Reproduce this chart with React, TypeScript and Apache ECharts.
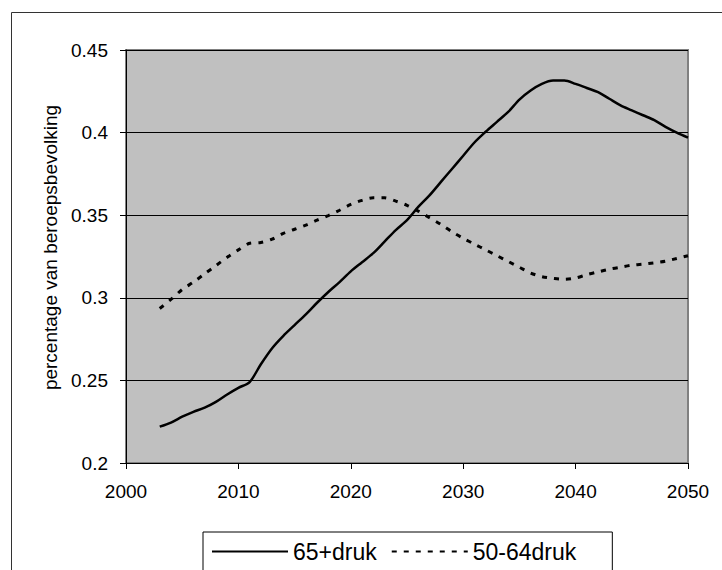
import React, { useEffect, useRef } from "react";
import * as echarts from "echarts";

const years = [
  2003, 2004, 2005, 2006, 2007, 2008, 2009, 2010, 2011, 2012, 2013, 2014, 2015, 2016,
  2017, 2018, 2019, 2020, 2021, 2022, 2023, 2024, 2025, 2026, 2027, 2028, 2029, 2030,
  2031, 2032, 2033, 2034, 2035, 2036, 2037, 2038, 2039, 2040, 2041, 2042, 2043, 2044,
  2045, 2046, 2047, 2048, 2049, 2050,
];

const druk65 = [
  0.222, 0.2245, 0.228, 0.231, 0.2335, 0.237, 0.2415, 0.2455, 0.249, 0.2598, 0.2695, 0.277,
  0.2835, 0.29, 0.297, 0.3035, 0.3095, 0.316, 0.3215, 0.327, 0.334, 0.341, 0.347, 0.355,
  0.362, 0.37, 0.378, 0.386, 0.394, 0.4005, 0.4065, 0.4125, 0.42, 0.4255, 0.4295, 0.4315,
  0.4315, 0.4295, 0.427, 0.4245, 0.4205, 0.4165, 0.4135, 0.4105, 0.4075, 0.4035, 0.4,
  0.397,
];

const druk5064 = [
  0.2935, 0.299, 0.305, 0.3095, 0.3145, 0.3195, 0.3245, 0.329, 0.333, 0.3335, 0.3355,
  0.339, 0.3415, 0.344, 0.347, 0.3498, 0.353, 0.3565, 0.359, 0.3605, 0.3605, 0.3585,
  0.356, 0.3525, 0.3485, 0.3445, 0.34, 0.336, 0.3325, 0.329, 0.3255, 0.322, 0.3185,
  0.315, 0.3128, 0.3118, 0.3112, 0.312, 0.314, 0.3157, 0.3173, 0.3185, 0.3197, 0.3204,
  0.3212, 0.3222, 0.3238, 0.3255,
];

const seriesNames = ["65+druk", "50-64druk"];
const yAxisTitle = "percentage van beroepsbevolking";

const FONT = "'Liberation Sans', Arial, sans-serif";

export default function App() {
  const ref = useRef<HTMLDivElement>(null);

  useEffect(() => {
    if (!ref.current) return;
    const chart = echarts.init(ref.current, undefined, { renderer: "svg" });
    const pairs = (vals: number[]) => years.map((y, i) => [y, vals[i]]);
    chart.setOption({
      animation: false,
      backgroundColor: "#ffffff",
      textStyle: { fontFamily: FONT, color: "#000" },
      graphic: [
        {
          type: "rect",
          silent: true,
          shape: { x: 11.5, y: 12.5, width: 740, height: 600 },
          style: { fill: "none", stroke: "#333", lineWidth: 1 },
        },
      ],
      grid: {
        left: 126,
        right: 34,
        top: 50,
        bottom: 107,
        show: true,
        backgroundColor: "#C0C0C0",
        borderColor: "#808080",
        borderWidth: 2,
      },
      legend: {
        data: seriesNames,
        left: 203,
        top: 532,
        padding: [8, 36, 12, 8],
        itemGap: 14,
        itemWidth: 76,
        itemHeight: 14,
        borderColor: "#000",
        borderWidth: 1,
        itemStyle: { opacity: 0 },
        textStyle: { fontFamily: FONT, fontSize: 23, color: "#000" },
      },
      xAxis: {
        type: "value",
        min: 2000,
        max: 2050,
        interval: 10,
        axisLine: { show: true, onZero: false, lineStyle: { color: "#000", width: 1 } },
        axisTick: { show: true, inside: false, length: 6, lineStyle: { color: "#000" } },
        splitLine: { show: false },
        axisLabel: {
          fontFamily: FONT,
          fontSize: 19,
          color: "#000",
          margin: 19,
          formatter: (v: number) => String(v),
        },
      },
      yAxis: {
        type: "value",
        min: 0.2,
        max: 0.45,
        interval: 0.05,
        name: yAxisTitle,
        nameLocation: "middle",
        nameRotate: 90,
        nameGap: 64,
        nameTextStyle: {
          fontFamily: FONT,
          fontSize: 19,
          color: "#000",
          padding: [0, 0, 0, 18],
        },
        axisLine: { show: true, onZero: false, lineStyle: { color: "#000", width: 1 } },
        axisTick: { show: true, inside: false, length: 6, lineStyle: { color: "#000" } },
        splitLine: { show: true, lineStyle: { color: "#000", width: 1 } },
        axisLabel: {
          fontFamily: FONT,
          fontSize: 19,
          color: "#000",
          margin: 18,
          formatter: (v: number) => String(+v.toFixed(2)),
        },
      },
      series: [
        {
          name: seriesNames[0],
          type: "line",
          data: pairs(druk65),
          symbol: "none",
          smooth: 0.3,
          lineStyle: { color: "#000", width: 2.5, type: "solid" },
          itemStyle: { color: "#000" },
        },
        {
          name: seriesNames[1],
          type: "line",
          data: pairs(druk5064),
          symbol: "none",
          smooth: 0.3,
          lineStyle: { color: "#000", width: 3, type: [5, 7] },
          itemStyle: { color: "#000" },
        },
      ],
    });
    return () => chart.dispose();
  }, []);

  return (
    <div
      ref={ref}
      style={{ position: "absolute", left: 0, top: 0, width: 722, height: 570 }}
    />
  );
}
